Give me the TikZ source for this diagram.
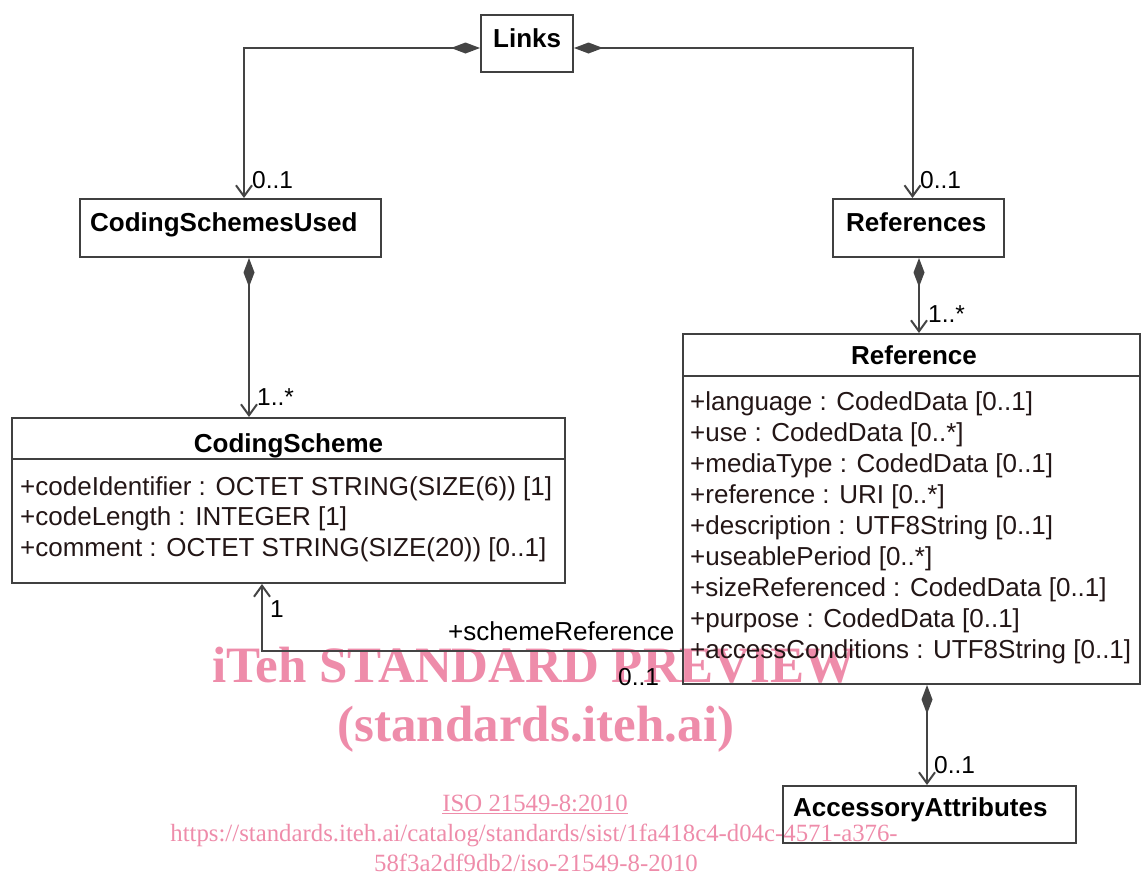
\documentclass[tikz,border=0pt]{standalone}
\usepackage{fontspec}
\setmainfont{Liberation Sans}
\newfontfamily\wmfont{Liberation Serif}
\usetikzlibrary{arrows.meta,calc}
\definecolor{linegray}{RGB}{68,68,68}
\definecolor{boxgray}{RGB}{64,64,64}
\definecolor{attrtext}{RGB}{35,22,22}
\definecolor{wmpink}{RGB}{238,140,170}

\begin{document}
\begin{tikzpicture}[x=1pt,y=-1pt,
  classbox/.style={draw=boxgray,line width=2pt,inner sep=0pt},
  sep/.style={draw=boxgray,line width=2pt},
  title/.style={inner sep=0pt,text=black,font=\fontsize{26}{31}\selectfont\bfseries},
  attr/.style={inner sep=0pt,anchor=base west,text=attrtext,font=\fontsize{26}{31}\selectfont},
  mult/.style={inner sep=0pt,anchor=base west,text=black,font=\fontsize{24.5}{29}\selectfont},
  role/.style={inner sep=0pt,anchor=base west,text=black,font=\fontsize{26}{31}\selectfont},
  comp/.style={draw=linegray,line width=2pt,
    {Diamond[length=29pt,width=11pt]}-{Straight Barb[length=11pt,width=16pt]}},
  assoc/.style={draw=linegray,line width=2pt,-{Straight Barb[length=11pt,width=16pt]}},
  wmbig/.style={inner sep=0pt,anchor=base,text=wmpink,font=\wmfont\bfseries\fontsize{51}{51}\selectfont},
  wmsmall/.style={inner sep=0pt,anchor=base,text=wmpink,font=\wmfont\fontsize{24.8}{28}\selectfont}]

\useasboundingbox (0,0) rectangle (1141,876);

% watermark
\node[wmbig] (wm1) at (534,682) {iTeh STANDARD PREVIEW};
\node[wmbig] (wm2) at (536,741) {(standards.iteh.ai)};
\node[wmsmall] (wm3) at (535,811) {\underline{ISO 21549-8:2010}};
\node[wmsmall] (wm4) at (534,841) {https://standards.iteh.ai/catalog/standards/sist/1fa418c4-d04c-4571-a376-};
\node[wmsmall] (wm5) at (536,871) {58f3a2df9db2/iso-21549-8-2010};

% classes
\node[classbox,minimum width=92pt,minimum height=57pt] (links) at (527,43.5) {};
\node[title,anchor=base west] (linksT) at (493,47) {Links};

\node[classbox,minimum width=301pt,minimum height=58pt] (csu) at (230.5,228) {};
\node[title,anchor=base west] (csuT) at (90,231.5) {CodingSchemesUsed};

\node[classbox,minimum width=171pt,minimum height=58pt] (refs) at (918.5,228) {};
\node[title,anchor=base west] (refsT) at (846,231.5) {References};

\node[classbox,minimum width=553pt,minimum height=165pt] (cs) at (288.5,500.5) {};
\node[title,anchor=base] (csT) at (288.5,452) {CodingScheme};
\draw[sep] ($(cs.north west)+(0,42)$) -- ($(cs.north east)+(0,42)$);
\node[attr] (cs1) at (20,495) {+codeIdentifier : OCTET STRING(SIZE(6)) [1]};
\node[attr] (cs2) at (20,525.5) {+codeLength : INTEGER [1]};
\node[attr] (cs3) at (20,556) {+comment : OCTET STRING(SIZE(20)) [0..1]};

\node[classbox,minimum width=457pt,minimum height=350pt] (ref) at (911.5,509) {};
\node[title,anchor=base] (refT) at (914,364) {Reference};
\draw[sep] ($(ref.north west)+(0,43)$) -- ($(ref.north east)+(0,43)$);
\node[attr] (r1) at (690,410) {+language : CodedData [0..1]};
\node[attr] (r2) at (690,441) {+use : CodedData [0..*]};
\node[attr] (r3) at (690,472) {+mediaType : CodedData [0..1]};
\node[attr] (r4) at (690,503) {+reference : URI [0..*]};
\node[attr] (r5) at (690,534) {+description : UTF8String [0..1]};
\node[attr] (r6) at (690,565) {+useablePeriod [0..*]};
\node[attr] (r7) at (690,596) {+sizeReferenced : CodedData [0..1]};
\node[attr] (r8) at (690,627) {+purpose : CodedData [0..1]};
\node[attr] (r9) at (690,658) {+accessConditions : UTF8String [0..1]};

\node[classbox,minimum width=293pt,minimum height=57pt] (acc) at (929.5,814.5) {};
\node[title,anchor=base west] (accT) at (793,816) {AccessoryAttributes};

% associations
\draw[comp] ($(links.west)+(0,4.5)$) -| ($(csu.north)+(13.5,0)$);
\draw[comp] ($(links.east)+(0,4.5)$) -| ($(refs.north)+(-6,0)$);
\draw[comp] ($(csu.south)+(18.5,0)$) -- ($(cs.north)+(-39.5,0)$);
\draw[comp] ($(refs.south)+(0.5,0)$) -- ($(ref.north)+(7.5,0)$);
\draw[comp] ($(ref.south)+(15.5,0)$) -- ($(acc.north)+(-2.5,0)$);
\draw[assoc] ($(ref.west)+(0,141.5)$) -| ($(cs.south)+(-26.5,0)$);

% multiplicities and roles
\node[mult] (m1) at (252,188) {0..1};
\node[mult] (m2) at (920,188) {0..1};
\node[mult] (m3) at (257,405) {1..*};
\node[mult] (m4) at (928,322) {1..*};
\node[mult] (m5) at (270,617) {1};
\node[role] (m6) at (448,640) {+schemeReference};
\node[mult] (m7) at (618,685) {0..1};
\node[mult] (m8) at (934,773) {0..1};
\end{tikzpicture}
\end{document}
